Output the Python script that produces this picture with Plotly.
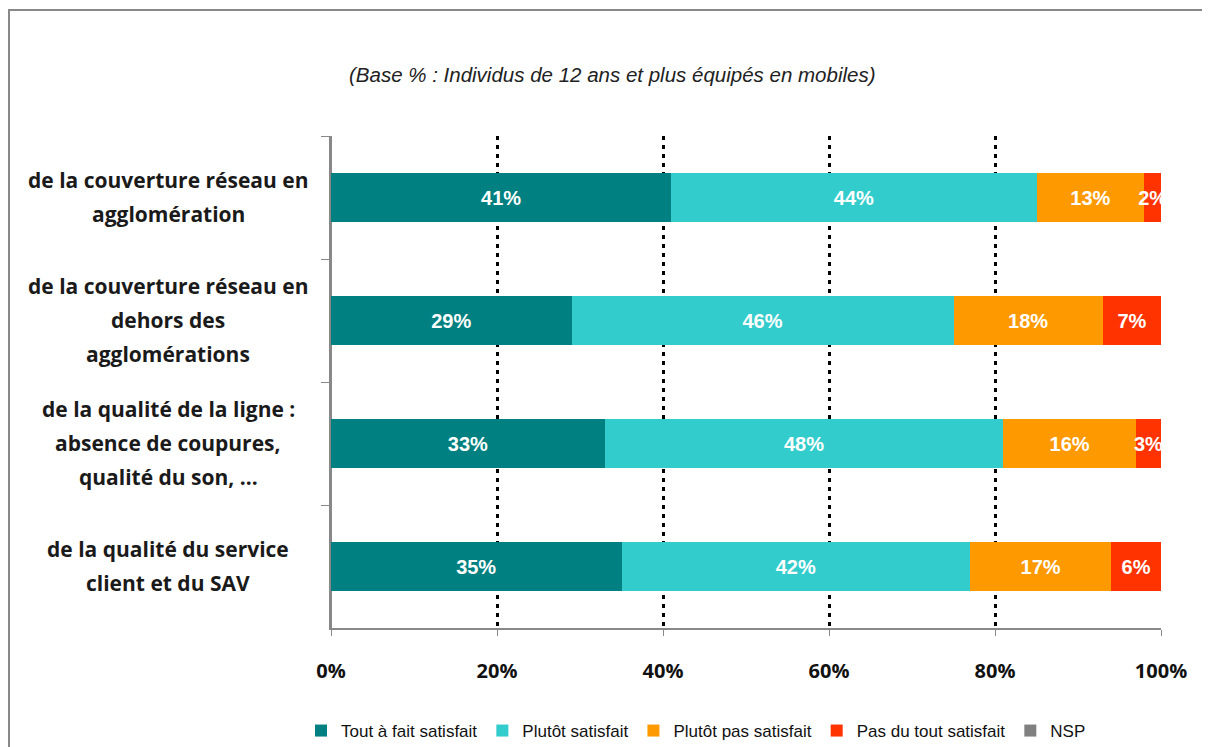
import plotly.graph_objects as go

# ---- data ----
categories = [
    "de la couverture réseau en\nagglomération",
    "de la couverture réseau en\ndehors des\nagglomérations",
    "de la qualité de la ligne :\nabsence de coupures,\nqualité du son, ...",
    "de la qualité du service\nclient et du SAV",
]
series_names = ["Tout à fait satisfait", "Plutôt satisfait", "Plutôt pas satisfait",
                "Pas du tout satisfait", "NSP"]
tout_a_fait = [41, 29, 33, 35]
plutot = [44, 46, 48, 42]
plutot_pas = [13, 18, 16, 17]
pas_du_tout = [2, 7, 3, 6]
nsp = [0, 0, 0, 0]
colors = ["#008080", "#33CCCC", "#FF9900", "#FF3300", "#808080"]
x_ticks = [0, 20, 40, 60, 80, 100]
x_tick_labels = ["0%", "20%", "40%", "60%", "80%", "100%"]
title_text = "(Base % : Individus de 12 ans et plus équipés en mobiles)"

fig = go.Figure()
for name, vals, col in zip(series_names, [tout_a_fait, plutot, plutot_pas, pas_du_tout, nsp], colors):
    fig.add_trace(go.Bar(
        name=name, x=vals, y=categories, orientation="h",
        marker=dict(color=col, line=dict(width=0)),
        width=0.40,
        text=[f"{v}%" if v > 0 else "" for v in vals],
        textposition="inside", insidetextanchor="middle", constraintext="none", textangle=0,
        textfont=dict(family="Liberation Sans, Arial, sans-serif", size=20, color="white", weight="bold"),
        hoverinfo="skip",
    ))

OFF = 8  # page body margin
W, H = 1210 - OFF, 747 - OFF
# target page coordinates of plot area
PL, PR, PT, PB = 331, 1161, 136, 628
L, T = PL - OFF, PT - OFF
R = W - (PR - OFF)
B = H - (PB - OFF)
pw, ph = PR - PL, PB - PT

def px_x(x):
    return (x - PL) / pw

def px_y(y):
    return (PB - y) / ph

annotations = []
line_gap = 34
for cat in categories:
    lines = cat.split("\n")
    n = len(lines)
    for i, ln in enumerate(lines):
        annotations.append(dict(
            x=px_x(168), xref="paper", y=cat, yref="y",
            text=ln, showarrow=False, xanchor="center", yanchor="middle",
            yshift=((n - 1) / 2 - i) * line_gap + 1,
            font=dict(family="Open Sans, sans-serif", size=21, color="#1a1a1a", weight="bold"),
        ))
annotations.append(dict(
    x=px_x(612), xref="paper", y=px_y(74), yref="paper",
    text="<i>" + title_text + "</i>", showarrow=False, xanchor="center", yanchor="middle",
    font=dict(family="Liberation Sans, Arial, sans-serif", size=20.5, color="#222222"),
))

fig.update_layout(
    width=W, height=H,
    margin=dict(l=L, r=R, t=T, b=B, pad=0, autoexpand=False),
    barmode="stack",
    paper_bgcolor="white", plot_bgcolor="white",
    showlegend=True,
    legend=dict(
        orientation="h", x=px_x(696), xanchor="center", y=px_y(731), yanchor="middle",
        font=dict(family="Liberation Sans Narrow, Arial Narrow, Liberation Sans, sans-serif", size=17, color="#111111"),
        itemwidth=30, traceorder="normal",
    ),
    annotations=annotations,
    shapes=[dict(type="rect", xref="paper", yref="paper",
                 x0=px_x(9), x1=px_x(1207), y0=px_y(790), y1=px_y(10),
                 line=dict(color="#888888", width=2), fillcolor="rgba(0,0,0,0)", layer="below")],
    xaxis=dict(
        range=[0, 100], tickvals=x_ticks, ticktext=x_tick_labels,
        ticks="outside", ticklen=6, tickcolor="#888888",
        showline=True, linecolor="#888888", linewidth=1.5,
        showgrid=True, gridcolor="black", gridwidth=2.5, griddash="4px,5px",
        zeroline=True, zerolinecolor="#888888", zerolinewidth=1.5,
        tickfont=dict(family="Open Sans, sans-serif", size=20, color="#111111", weight="bold"),
        ticklabelstandoff=18, fixedrange=True,
    ),
    yaxis=dict(
        type="category", autorange=False, range=[3.5, -0.5],
        showticklabels=False, ticks="outside", tickson="boundaries", ticklen=8, tickcolor="#888888",
        showline=True, linecolor="#888888", linewidth=1.5, showgrid=False, fixedrange=True,
    ),
)

fig.write_html("out.html")
